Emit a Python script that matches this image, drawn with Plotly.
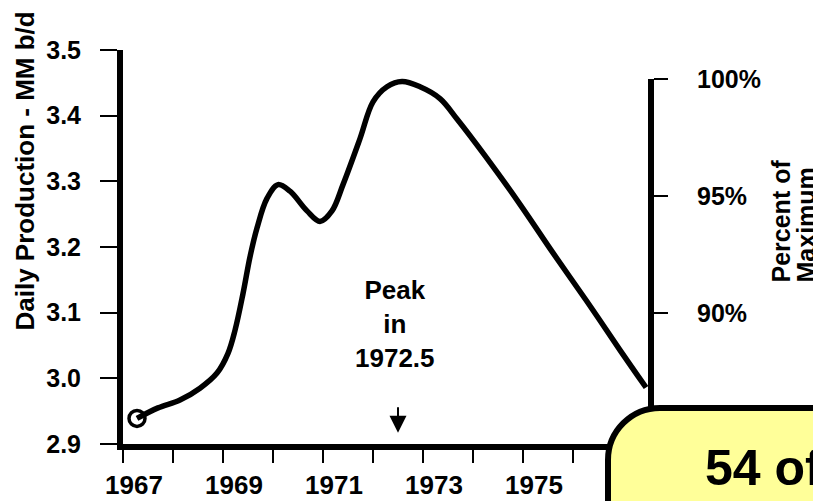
import plotly.graph_objects as go

# ---- data ----
years = [1967.28, 1967.7, 1968.14, 1968.54, 1968.88, 1969.1, 1969.24, 1969.4, 1969.54,
         1969.68, 1969.88, 1970.1, 1970.34, 1970.68, 1970.94, 1971.18, 1971.4, 1971.74,
         1972.0, 1972.28, 1972.58, 1972.94, 1973.34, 1973.68, 1974.28, 1974.94, 1975.6,
         1976.28, 1976.94, 1977.46]
production = [2.939, 2.955, 2.967, 2.985, 3.008, 3.038, 3.073, 3.129, 3.185,
              3.229, 3.274, 3.295, 3.285, 3.255, 3.239, 3.255, 3.295, 3.365,
              3.421, 3.444, 3.452, 3.444, 3.426, 3.395, 3.335, 3.265, 3.191,
              3.117, 3.043, 2.986]

x_tick_years = [1967, 1969, 1971, 1973, 1975]
x_tick_labels = ["1967", "1969", "1971", "1973", "1975"]
y_tick_values = [2.9, 3.0, 3.1, 3.2, 3.3, 3.4, 3.5]
y_tick_labels = ["2.9", "3.0", "3.1", "3.2", "3.3", "3.4", "3.5"]
pct_tick_values = [90, 95, 100]
pct_tick_labels = ["90%", "95%", "100%"]

peak_year = 1972.5
left_title = "Daily Production - MM b/d"
right_title_lines = ["Percent of", "Maximum"]
box_text = "54 of"

# ---- layout geometry ----
# the page body has an 8px margin, so the figure is drawn 8px smaller and
# every window-pixel position below is shifted by OFF.
OFF = 8
W, H = 821 - OFF, 501 - OFF
PLOT_LEFT, PLOT_RIGHT, PLOT_TOP, PLOT_BOTTOM = 123, 648, 50, 444  # window pixels
L = PLOT_LEFT - OFF
T = PLOT_TOP - OFF
R = W - (PLOT_RIGHT - OFF)
B = H - (PLOT_BOTTOM - OFF)
PW, PH = W - L - R, H - T - B


def px_x(px):
    return (px - PLOT_LEFT) / PW


def px_y(py):
    return (PLOT_BOTTOM - py) / PH


FONT = "Liberation Sans, Arial, sans-serif"
BLACK = "#000000"

fig = go.Figure()

fig.add_trace(go.Scatter(
    x=years, y=production, mode="lines",
    line=dict(color=BLACK, width=5.5, shape="spline", smoothing=1.0),
    hoverinfo="skip", showlegend=False,
))
fig.add_trace(go.Scatter(
    x=years[:1], y=production[:1], mode="markers",
    marker=dict(symbol="circle-open", size=16, color=BLACK, line=dict(width=3.5, color=BLACK)),
    hoverinfo="skip", showlegend=False,
))
# invisible trace so the percent axis exists
fig.add_trace(go.Scatter(
    x=[years[0], years[-1]], y=[pct_tick_values[0], pct_tick_values[-1]],
    xaxis="x", yaxis="y2", mode="lines", line=dict(width=0), opacity=0,
    hoverinfo="skip", showlegend=False,
))

fig.update_layout(
    width=W, height=H,
    margin=dict(l=L, r=R, t=T, b=B, pad=0, autoexpand=False),
    paper_bgcolor="white", plot_bgcolor="rgba(0,0,0,0)",
    showlegend=False,
    xaxis=dict(
        range=[1967, 1977.5], showgrid=False, zeroline=False, automargin=False,
        showline=True, linewidth=6, linecolor=BLACK,
        tickmode="array", tickvals=x_tick_years, ticktext=x_tick_labels,
        ticks="outside", ticklen=13, tickwidth=2, tickcolor=BLACK,
        minor=dict(dtick=1, tick0=1967, ticks="outside", ticklen=13, tickwidth=2,
                   tickcolor=BLACK, showgrid=False),
        tickfont=dict(family=FONT, size=26, color=BLACK, weight="bold"),
        ticklabelshift=11, ticklabelstandoff=0,
    ),
    yaxis=dict(
        range=[2.9, 3.5], showgrid=False, zeroline=False, automargin=False,
        showline=True, linewidth=6, linecolor=BLACK,
        tickmode="array", tickvals=y_tick_values, ticktext=y_tick_labels,
        ticks="outside", ticklen=17, tickwidth=2, tickcolor=BLACK,
        tickfont=dict(family=FONT, size=25, color=BLACK, weight="bold"),
        ticklabelstandoff=14,
    ),
    yaxis2=dict(
        anchor="x", side="right", domain=[0, px_y(79)], automargin=False,
        range=[84.40, 100], showgrid=False, zeroline=False,
        showline=True, linewidth=6, linecolor=BLACK,
        tickmode="array", tickvals=pct_tick_values, ticktext=pct_tick_labels,
        ticks="outside", ticklen=14, tickwidth=2, tickcolor=BLACK,
        tickfont=dict(family=FONT, size=25, color=BLACK, weight="bold"),
        ticklabelstandoff=24,
    ),
)

# yellow rounded box at bottom right
x0, yt = px_x(608), px_y(408)
x1, yb = px_x(840), px_y(520)
rx, ry = 52 / PW, 52 / PH
k = 0.5523
path = (f"M {x0},{yb} L {x0},{yt - ry} "
        f"C {x0},{yt - ry + k * ry} {x0 + rx - k * rx},{yt} {x0 + rx},{yt} "
        f"L {x1},{yt} L {x1},{yb} Z")
fig.add_shape(type="path", path=path, xref="paper", yref="paper",
              fillcolor="#FFFF99", line=dict(color=BLACK, width=6), layer="above")

fig.add_annotation(x=px_x(703), y=px_y(468), xref="paper", yref="paper",
                   text=box_text, showarrow=False, xanchor="left", yanchor="middle",
                   font=dict(family=FONT, size=50, color=BLACK, weight="bold"))

# axis titles
fig.add_annotation(x=px_x(24), y=px_y(171.5), xref="paper", yref="paper",
                   text=left_title, textangle=-90, showarrow=False,
                   xanchor="center", yanchor="middle",
                   font=dict(family=FONT, size=26, color=BLACK, weight="bold"))
for line_txt, cx in zip(right_title_lines, [780, 805]):
    fig.add_annotation(x=px_x(cx), y=px_y(285), xref="paper", yref="paper",
                       text=line_txt, textangle=-90, showarrow=False,
                       xanchor="center", yanchor="bottom",
                       font=dict(family=FONT, size=25, color=BLACK, weight="bold"))

# peak annotation and arrow
fig.add_annotation(x=peak_year - 0.06, y=3.083, xref="x", yref="y",
                   text="Peak<br>in<br>" + str(peak_year), showarrow=False,
                   xanchor="center", yanchor="middle", align="center",
                   font=dict(family=FONT, size=26, color=BLACK, weight="bold"))
fig.add_annotation(x=peak_year, y=2.917, xref="x", yref="y", text="",
                   showarrow=True, ax=0, ay=-27, arrowhead=2, arrowsize=1.7,
                   arrowwidth=2, arrowcolor=BLACK, standoff=0)

fig.write_html("out.html")
